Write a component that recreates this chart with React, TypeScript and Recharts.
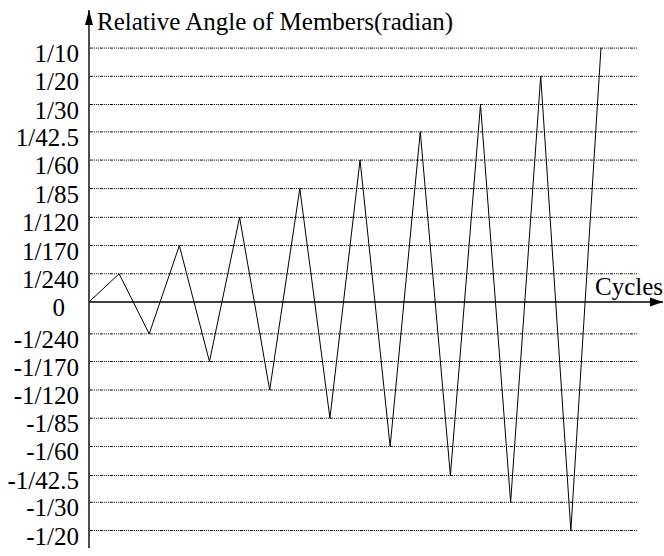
import React from "react"
import { LineChart, Line, XAxis, YAxis, ReferenceLine, ReferenceDot } from "recharts"

if (typeof document !== "undefined") document.body.style.margin = "0"

// y levels (equally spaced bands), label shown at each level
const levelLabels = [
  "1/10", "1/20", "1/30", "1/42.5", "1/60", "1/85", "1/120", "1/170", "1/240", "0",
  "-1/240", "-1/170", "-1/120", "-1/85", "-1/60", "-1/42.5", "-1/30", "-1/20",
]
const levelValues = [
  9, 8, 7, 6.03, 5.03, 4.02, 3, 2, 1, 0,
  -1.13, -2.11, -3.12, -4.12, -5.12, -6.15, -7.1, -8.1,
]

// zigzag: cycle index -> level reached
const cycles = [0, 1, 2, 3, 4, 5, 6, 7, 8, 9, 10, 11, 12, 13, 14, 15, 16, 17]
const angleLevels = [
  0, 1, -1.13, 2, -2.11, 3, -3.12, 4.02, -4.12, 5.03, -5.12, 6.03, -6.15, 7, -7.1, 8, -8.1, 9,
]

const X_MAX = 19.06
const GRID_END = 18.23
const Y_DOMAIN: [number, number] = [-8.72, 10.35]
const FONT = '"Liberation Serif", "Times New Roman", serif'

const data = cycles.map((c, i) => ({ cycle: c, angle: angleLevels[i] }))

const YTick = (props: any) => {
  const { x, y, payload } = props
  const idx = levelValues.indexOf(payload.value)
  const label = levelLabels[idx]
  // the "0" label sits a bit left of the others in the original
  const shift = label === "0" ? -14 : 0
  return (
    <text x={x - 2 + shift} y={y + 14} textAnchor="end" fontSize={25} fontFamily={FONT} fill="#000">
      {label}
    </text>
  )
}

const UpArrow = (props: any) => {
  const { cx, cy } = props
  return <polygon points={`${cx},${cy} ${cx - 4},${cy + 15} ${cx + 4},${cy + 15}`} fill="#000" />
}

const RightArrow = (props: any) => {
  const { cx, cy } = props
  return <polygon points={`${cx},${cy} ${cx - 13},${cy - 4.5} ${cx - 13},${cy + 4.5}`} fill="#000" />
}

export default function App() {
  return (
    <div style={{ width: 664, height: 556, background: "#fff" }}>
      <LineChart width={664} height={556} data={data} margin={{ top: 10, right: 1, bottom: 8, left: 0 }}>
        <XAxis dataKey="cycle" type="number" domain={[0, X_MAX]} hide allowDataOverflow />
        <YAxis
          type="number"
          domain={Y_DOMAIN}
          ticks={levelValues}
          interval={0}
          width={89}
          tickLine={false}
          tick={<YTick />}
          axisLine={{ stroke: "#000", strokeWidth: 1.4 }}
          allowDataOverflow
        />
        {levelValues
          .filter((v) => v !== 0)
          .map((v) => (
            <ReferenceLine
              key={v}
              segment={[{ x: 0.03, y: v }, { x: GRID_END, y: v }]}
              stroke="#000"
              strokeWidth={1}
              strokeDasharray="3 1 1 1 1 1 1 1"
            />
          ))}
        <ReferenceLine y={0} stroke="#000" strokeWidth={1.3} />
        <ReferenceDot x={0} y={Y_DOMAIN[1]} ifOverflow="visible" shape={<UpArrow />} />
        <ReferenceDot x={X_MAX} y={0} ifOverflow="visible" shape={<RightArrow />} />
        <Line
          type="linear"
          dataKey="angle"
          stroke="#000"
          strokeWidth={1}
          dot={false}
          isAnimationActive={false}
        />
        <text x={97} y={30} fontSize={25} fontFamily={FONT} fill="#000">
          Relative Angle of Members(radian)
        </text>
        <text x={595} y={295} fontSize={25} fontFamily={FONT} fill="#000">
          Cycles
        </text>
      </LineChart>
    </div>
  )
}
